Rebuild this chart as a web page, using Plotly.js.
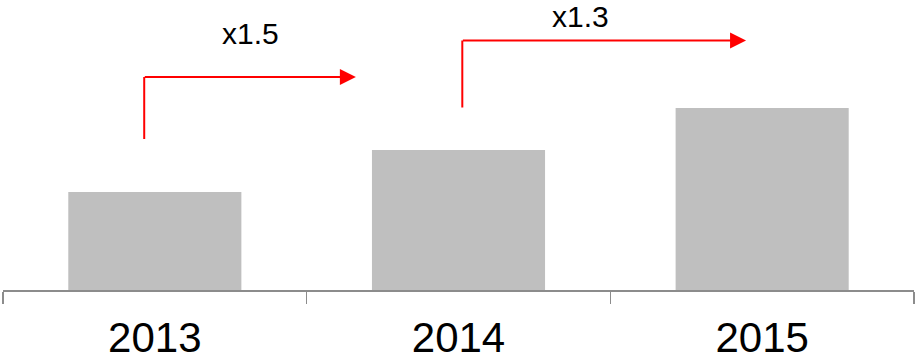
<!DOCTYPE html>
<html>
<head>
<meta charset="utf-8">
<script src="https://cdn.plot.ly/plotly-3.0.1.min.js"></script>
<style>html,body{margin:0;padding:0;background:#fff;}#chart{width:924px;height:361px;}</style>
</head>
<body>
<div id="chart"></div>
<script>
// Data
const years = ["2013", "2014", "2015"];
const values = [98, 140, 182];
const growthLabels = ["x1.5", "x1.3"];

// Arrow geometry (in axis units): vertical stem x, stem bottom, elbow y, tip x, label position
const arrows = [
  {x0: -0.035, yBottom: 151, yTop: 213, xTip: 0.662, lx: 0.314, ly: 257},
  {x0: 1.0125, yBottom: 182.5, yTop: 249.5, xTip: 1.947, lx: 1.403, ly: 274}
];

const red = "#FF0000";
const shapes = [];
const annotations = [];
arrows.forEach((a, i) => {
  shapes.push({type: "line", xref: "x", yref: "y", x0: a.x0, x1: a.x0, y0: a.yBottom, y1: a.yTop,
    line: {color: red, width: 2}});
  annotations.push({xref: "x", yref: "y", axref: "x", ayref: "y", x: a.xTip, y: a.yTop,
    ax: a.x0 - 0.003, ay: a.yTop, text: "", showarrow: true, arrowhead: 2, arrowsize: 1.6,
    arrowwidth: 2, arrowcolor: red, standoff: 0, startstandoff: 0});
  annotations.push({xref: "x", yref: "y", x: a.lx, y: a.ly, text: growthLabels[i], showarrow: false,
    font: {family: "Liberation Sans, Arial, sans-serif", size: 30, color: "#000"}});
});

const trace = {
  type: "bar", x: years, y: values,
  marker: {color: "#BFBFBF", line: {width: 0}},
  hoverinfo: "skip"
};

const layout = {
  width: 924, height: 361,
  margin: {l: 3, r: 10, t: 0, b: 71, pad: 0},
  paper_bgcolor: "#fff", plot_bgcolor: "#fff",
  bargap: 0.43,
  showlegend: false,
  xaxis: {
    type: "category", range: [-0.5, 2.5], tickson: "boundaries",
    showline: true, linecolor: "#8C8C8C", linewidth: 1.5,
    ticks: "outside", ticklen: 12, tickwidth: 1.5, tickcolor: "#8C8C8C",
    showgrid: false, zeroline: false, ticklabelstandoff: 10,
    tickfont: {family: "Liberation Sans, Arial, sans-serif", size: 42, color: "#000"}
  },
  yaxis: {range: [0, 290], visible: false, showgrid: false, zeroline: false},
  shapes: shapes,
  annotations: annotations
};

Plotly.newPlot("chart", [trace], layout, {displayModeBar: false, staticPlot: true});
</script>
</body>
</html>
